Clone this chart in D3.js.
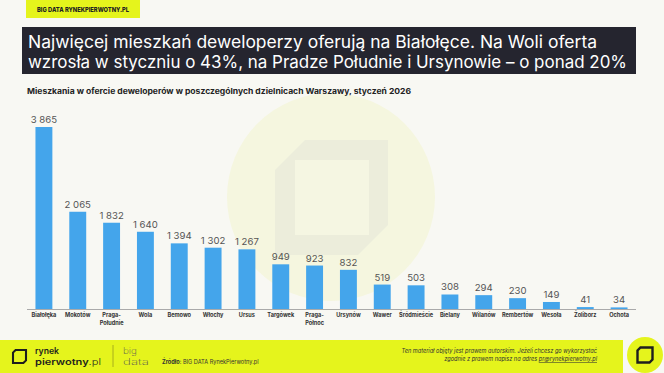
<!DOCTYPE html>
<html><head><meta charset="utf-8">
<script src="https://cdn.jsdelivr.net/npm/d3@7"></script>
<style>
html,body{margin:0;padding:0;background:#f8f8f3;}
svg{display:block;font-family:Inter,"Noto Sans",sans-serif;}
</style></head>
<body><svg id="c" width="664" height="373"></svg>
<script>
const districts = ["Białołęka","Mokotów","Praga-\nPołudnie","Wola","Bemowo","Włochy","Ursus","Targówek","Praga-\nPółnoc","Ursynów","Wawer","Śródmieście","Bielany","Wilanów","Rembertów","Wesoła","Żoliborz","Ochota"];
const flats = [3865,2065,1832,1640,1394,1302,1267,949,923,832,519,503,308,294,230,149,41,34];
const titleLines = ["Najwięcej mieszkań deweloperzy oferują na Białołęce. Na Woli oferta","wzrosła w styczniu o 43%, na Pradze Południe i Ursynowie – o ponad 20%"];
const subtitle = "Mieszkania w ofercie deweloperów w poszczególnych dzielnicach Warszawy, styczeń 2026";

const svg = d3.select("#c");
const fmt = v => d3.format(",")(v).replace(/,/g," ");

svg.append("rect").attr("width",664).attr("height",373).attr("fill","#f8f8f3");

// watermark
const wm = svg.append("g");
wm.append("circle").attr("cx",331).attr("cy",197).attr("r",104).attr("fill","#f5f6df");
wm.append("path").attr("d","M305,140L388,140L388,225L358,255L275,255L275,170Z").attr("fill","#eceddb");
wm.append("rect").attr("x",295).attr("y",160).attr("width",74).attr("height",75).attr("fill","#f5f6e2");

// top tag
svg.append("rect").attr("x",26).attr("y",0).attr("width",114).attr("height",18).attr("fill","#e5f41c");
svg.append("text").attr("x",37).attr("y",12).attr("font-size",6.8).attr("font-weight",800).attr("fill","#222")
  .attr("textLength",92).attr("lengthAdjust","spacingAndGlyphs").text("BIG DATA RYNEKPIERWOTNY.PL");

// title band
svg.append("rect").attr("x",22).attr("y",27).attr("width",614).attr("height",47).attr("fill","#25252f");
const tl = [569,599];
titleLines.forEach((t,i)=>{
  svg.append("text").attr("x",28).attr("y",48+i*20).attr("font-size",17).attr("font-weight",400).attr("fill","#fff")
   .attr("textLength",tl[i]).attr("lengthAdjust","spacingAndGlyphs").text(t);
});

svg.append("text").attr("x",27).attr("y",94).attr("font-size",7.6).attr("font-weight",700).attr("fill","#222")
  .attr("textLength",384).attr("lengthAdjust","spacingAndGlyphs").text(subtitle);

// chart
const x = d3.scaleBand().domain(districts).range([27,636]).paddingInner(0.5).paddingOuter(0.25);
const y = d3.scaleLinear().domain([0,3865]).range([309,127]);

svg.append("g").selectAll("rect").data(flats).join("rect")
  .attr("x",(d,i)=>x(districts[i])).attr("width",x.bandwidth())
  .attr("y",d=>y(d)).attr("height",d=>y(0)-y(d)).attr("fill","#44a5eb");

svg.append("g").selectAll("text").data(flats).join("text")
  .attr("x",(d,i)=>x(districts[i])+x.bandwidth()/2).attr("y",d=>y(d)-4)
  .attr("text-anchor","middle").attr("font-size",9.6).attr("fill","#555").text(d=>fmt(d));

const ax = svg.append("g").attr("transform","translate(0,309)")
  .call(d3.axisBottom(x).tickSize(0).tickFormat(""));
ax.select(".domain").attr("stroke","#aaa").attr("stroke-width",1).attr("d","M27,0.5H636");

const lab = svg.append("g");
districts.forEach(d=>{
  const t = lab.append("text").attr("x",x(d)+x.bandwidth()/2).attr("y",317).attr("text-anchor","middle")
    .attr("font-size",5.6).attr("font-weight",700).attr("fill","#333");
  d.split("\n").forEach((s,j)=>t.append("tspan").attr("x",x(d)+x.bandwidth()/2).attr("dy",j?7.5:0).text(s));
});

// footer
svg.append("rect").attr("x",0).attr("y",340).attr("width",623).attr("height",33).attr("fill","#e5f41c");
const icon = (g,cx,cy,s)=>{
  g.append("path").attr("d",`M${cx-s*0.3},${cy-s*0.5}L${cx+s*0.5},${cy-s*0.5}L${cx+s*0.5},${cy+s*0.3}L${cx+s*0.3},${cy+s*0.5}L${cx-s*0.5},${cy+s*0.5}L${cx-s*0.5},${cy-s*0.3}Z`)
   .attr("fill","none").attr("stroke","#1e1e1e").attr("stroke-width",s*0.16).attr("stroke-linejoin","miter");
};
icon(svg,19.5,356.5,13);
svg.append("text").attr("x",35).attr("y",354).attr("font-size",8.6).attr("font-weight",600).attr("fill","#1e1e1e")
  .attr("textLength",24).attr("lengthAdjust","spacingAndGlyphs").text("rynek");
const pw = svg.append("text").attr("x",35).attr("y",364.5).attr("font-size",8.6).attr("font-weight",600).attr("fill","#1e1e1e")
  .attr("textLength",66).attr("lengthAdjust","spacingAndGlyphs");
pw.append("tspan").text("pierwotny");
pw.append("tspan").attr("font-weight",300).text(".pl");
svg.append("line").attr("x1",113).attr("x2",113).attr("y1",345).attr("y2",367).attr("stroke","#9aa020").attr("stroke-width",0.8);
svg.append("text").attr("x",123).attr("y",354).attr("font-size",8.6).attr("font-weight",200).attr("fill","#555")
  .attr("textLength",14).attr("lengthAdjust","spacingAndGlyphs").text("big");
svg.append("text").attr("x",123).attr("y",364.5).attr("font-size",8.6).attr("font-weight",200).attr("fill","#555")
  .attr("textLength",26).attr("lengthAdjust","spacingAndGlyphs").text("data");
const src = svg.append("text").attr("x",162).attr("y",364).attr("font-size",5.6).attr("fill","#333");
src.append("tspan").attr("font-weight",700).text("Źródło");
src.append("tspan").text(": BIG DATA RynekPierwotny.pl");
svg.append("text").attr("x",597).attr("y",353).attr("text-anchor","end").attr("font-size",5.6).attr("font-style","italic").attr("fill","#333")
  .text("Ten materiał objęty jest prawem autorskim. Jeżeli chcesz go wykorzystać");
const r2 = svg.append("text").attr("x",597).attr("y",361).attr("text-anchor","end").attr("font-size",5.6).attr("font-style","italic").attr("fill","#333");
r2.append("tspan").text("zgodnie z prawem napisz na adres ");
r2.append("tspan").attr("text-decoration","underline").text("pr@rynekpierwotny.pl");

svg.append("circle").attr("cx",645).attr("cy",355).attr("r",18).attr("fill","#e5f41c");
icon(svg,645,355,15);
</script></body></html>
